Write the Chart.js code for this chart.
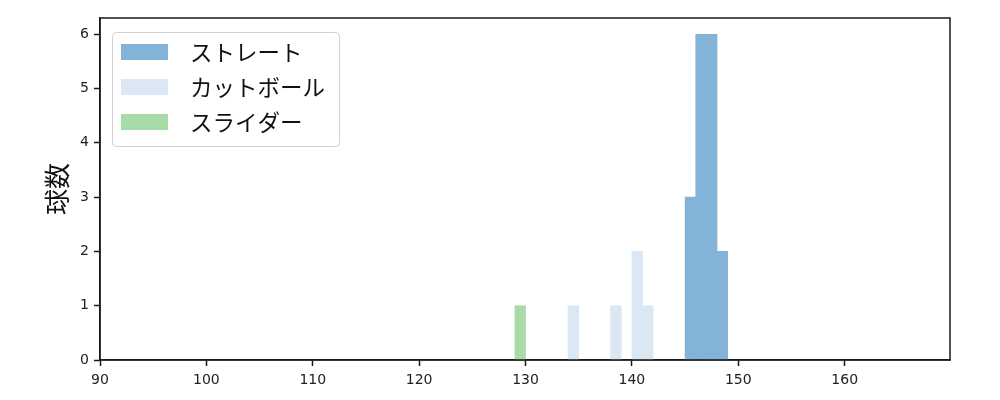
<!DOCTYPE html>
<html>
<head>
<meta charset="utf-8">
<script src="https://cdn.jsdelivr.net/npm/chart.js@4"></script>
<style>
  body { margin: 0; background: #fff; }
  #wrap { width: 1000px; height: 400px; }
</style>
</head>
<body>
<div id="wrap"><canvas id="myChart" width="1000" height="400"></canvas></div>
<script>
'use strict';

// bin centres (km/h) and counts
var straightSpeed = [145.5, 146.5, 147.5, 148.5];
var straightCount = [3, 6, 6, 2];
var cutSpeed = [134.5, 138.5, 140.5, 141.5];
var cutCount = [1, 1, 2, 1];
var sliderSpeed = [129.5];
var sliderCount = [1];

var seriesNames = ['ストレート', 'カットボール', 'スライダー'];
var xTicks = [90, 100, 110, 120, 130, 140, 150, 160];
var yTicks = [0, 1, 2, 3, 4, 5, 6];
var yTitle = '球数';

function toPoints(xs, ys) {
    var pts = [];
    for (var i = 0; i < xs.length; i++) {
        pts.push({ x: xs[i], y: ys[i] });
    }
    return pts;
}

var jpFont = '"Noto Sans CJK JP", "DejaVu Sans", sans-serif';
var tickFont = { family: '"DejaVu Sans", sans-serif', size: 14 };

// frame round the plot area
var framePlugin = {
    id: 'frame',
    afterDraw: function (chart) {
        var a = chart.chartArea;
        var ctx = chart.ctx;
        ctx.save();
        ctx.strokeStyle = '#1a1a1a';
        ctx.lineWidth = 1.5;
        ctx.strokeRect(a.left, a.top, a.right - a.left, a.bottom - a.top);
        ctx.restore();
    }
};

// matplotlib style legend box in the upper left
var legendPlugin = {
    id: 'boxLegend',
    afterDraw: function (chart) {
        var a = chart.chartArea;
        var ctx = chart.ctx;
        var x0 = a.left + 12, y0 = a.top + 14;
        var w = 227, h = 114;
        ctx.save();
        ctx.fillStyle = 'rgba(255,255,255,0.8)';
        ctx.strokeStyle = '#d0d0d0';
        ctx.lineWidth = 1;
        ctx.beginPath();
        ctx.roundRect(x0 + 0.5, y0 + 0.5, w, h, 4);
        ctx.fill();
        ctx.stroke();
        ctx.font = '22.5px ' + jpFont;
        ctx.textBaseline = 'middle';
        chart.data.datasets.forEach(function (ds, i) {
            var cy = y0 + 20 + i * 35;
            ctx.fillStyle = ds.backgroundColor;
            ctx.fillRect(x0 + 9, cy - 8, 47, 16);
            ctx.fillStyle = '#111';
            ctx.fillText(ds.label, x0 + 78, cy);
        });
        ctx.restore();
    }
};

var ctx = document.getElementById('myChart').getContext('2d');
var chart = new Chart(ctx, {
    type: 'bar',
    data: {
        datasets: [{
            label: seriesNames[0],
            data: toPoints(straightSpeed, straightCount),
            backgroundColor: '#84b3d8'
        }, {
            label: seriesNames[1],
            data: toPoints(cutSpeed, cutCount),
            backgroundColor: '#dbe7f3'
        }, {
            label: seriesNames[2],
            data: toPoints(sliderSpeed, sliderCount),
            backgroundColor: '#a9dba8'
        }]
    },
    options: {
        responsive: false,
        animation: false,
        grouped: false,
        barPercentage: 1,
        categoryPercentage: 1,
        layout: { padding: { left: 0, right: 50, top: 18, bottom: 0 } },
        plugins: {
            legend: { display: false },
            tooltip: { enabled: false }
        },
        scales: {
            x: {
                type: 'linear',
                min: 90,
                max: 169.9,
                offset: false,
                afterBuildTicks: function (scale) {
                    scale.ticks = xTicks.map(function (v) { return { value: v }; });
                },
                afterFit: function (scale) { scale.height = 40; },
                grid: { offset: false, drawOnChartArea: false, tickLength: 6, tickColor: '#1a1a1a', tickWidth: 1.5 },
                border: { color: '#1a1a1a', width: 1.5 },
                ticks: { color: '#222', font: tickFont, padding: 6, maxRotation: 0 }
            },
            y: {
                min: 0,
                max: 6.3,
                afterBuildTicks: function (scale) {
                    scale.ticks = yTicks.map(function (v) { return { value: v }; });
                },
                afterFit: function (scale) { scale.width = 100; },
                grid: { drawOnChartArea: false, tickLength: 6, tickColor: '#1a1a1a', tickWidth: 1.5 },
                border: { color: '#1a1a1a', width: 1.5 },
                ticks: { color: '#222', font: tickFont, padding: 5 },
                title: {
                    display: true,
                    text: yTitle,
                    color: '#111',
                    font: { family: jpFont, size: 26 },
                    padding: { top: 42, bottom: 0 }
                }
            }
        }
    },
    plugins: [framePlugin, legendPlugin]
});
</script>
</body>
</html>
